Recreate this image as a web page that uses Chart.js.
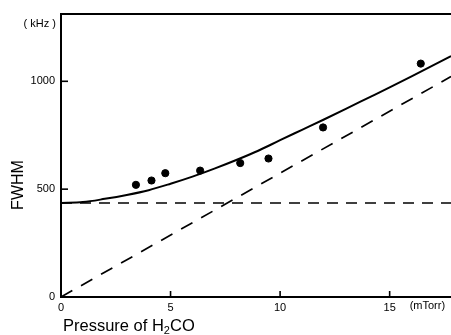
<!DOCTYPE html>
<html>
<head>
<meta charset="utf-8">
<script src="https://cdn.jsdelivr.net/npm/chart.js@4"></script>
<style>
  html, body { margin: 0; padding: 0; background: #fff; }
  #wrap { width: 451px; height: 335px; }
</style>
</head>
<body>
<div id="wrap"><canvas id="grafico"></canvas></div>
<script>
// datos
var presion = [3.42, 4.13, 4.76, 6.35, 8.18, 9.47, 11.96, 16.42];
var anchura = [520, 540, 574, 586, 621, 642, 786, 1082];

// curva ajustada (leida punto a punto)
var curvaX = [0, 1, 2, 3, 4, 5, 6, 7, 8, 9, 10, 11, 12, 13, 14, 15, 16, 17, 17.8];
var curvaY = [436, 440, 455, 473, 495, 525, 558, 595, 635, 678, 727, 775, 823, 872, 922, 972, 1023, 1075, 1117];

// lineas de trazos
var planaX = [0, 17.8];
var planaY = [436, 436];
var rectaX = [0, 17.8];
var rectaY = [0, 1022];

var ticksX = [0, 5, 10, 15];
var ticksY = [0, 500, 1000];

function pares(xs, ys) {
  var out = [];
  for (var i = 0; i < xs.length; i++) {
    out.push({ x: xs[i], y: ys[i] });
  }
  return out;
}

var fuente = "'Liberation Sans', 'DejaVu Sans', sans-serif";

// textos, marcas hacia dentro y borde superior
var extras = {
  id: 'extras',
  afterDraw: function (chart) {
    var ctx = chart.ctx;
    var area = chart.chartArea;
    var sx = chart.scales.x;
    var sy = chart.scales.y;
    ctx.save();
    ctx.strokeStyle = '#000';
    ctx.lineWidth = 2;
    // borde superior
    ctx.beginPath();
    ctx.moveTo(area.left - 1, area.top);
    ctx.lineTo(451, area.top);
    ctx.stroke();
    // marcas hacia dentro
    ctx.lineWidth = 1.6;
    ticksY.forEach(function (v) {
      if (v === 0) return;
      var py = sy.getPixelForValue(v);
      ctx.beginPath();
      ctx.moveTo(area.left, py);
      ctx.lineTo(area.left + 7, py);
      ctx.stroke();
    });
    ticksX.forEach(function (v) {
      if (v === 0) return;
      var px = sx.getPixelForValue(v);
      ctx.beginPath();
      ctx.moveTo(px, area.bottom);
      ctx.lineTo(px, area.bottom - 6);
      ctx.stroke();
    });
    ctx.fillStyle = '#000';
    // unidades
    ctx.font = '11px ' + fuente;
    ctx.textAlign = 'right';
    ctx.textBaseline = 'middle';
    ctx.fillText('( kHz )', 56, 24);
    ctx.textAlign = 'left';
    ctx.fillText('(mTorr)', sx.getPixelForValue(15) + 20, 306);
    // titulo eje y
    ctx.font = '16px ' + fuente;
    ctx.save();
    ctx.translate(19, 185);
    ctx.rotate(-Math.PI / 2);
    ctx.textAlign = 'center';
    ctx.fillText('FWHM', 0, 0);
    ctx.restore();
    // titulo eje x con subindice
    ctx.font = '16.5px ' + fuente;
    ctx.textAlign = 'left';
    ctx.textBaseline = 'alphabetic';
    var x0 = 63, y0 = 331;
    var t1 = 'Pressure of H';
    ctx.fillText(t1, x0, y0);
    var w1 = ctx.measureText(t1).width;
    ctx.font = '11px ' + fuente;
    ctx.fillText('2', x0 + w1, y0 + 3);
    var w2 = ctx.measureText('2').width;
    ctx.font = '16.5px ' + fuente;
    ctx.fillText('CO', x0 + w1 + w2, y0);
    ctx.restore();
  }
};

var ctx = document.getElementById('grafico').getContext('2d');
new Chart(ctx, {
  type: 'scatter',
  data: {
    datasets: [{
      label: 'medidas',
      data: pares(presion, anchura),
      backgroundColor: '#000',
      borderColor: '#000',
      pointRadius: 3.6,
      showLine: false
    }, {
      label: 'curva',
      data: pares(curvaX, curvaY),
      borderColor: '#000',
      borderWidth: 2,
      pointRadius: 0,
      showLine: true,
      cubicInterpolationMode: 'monotone'
    }, {
      label: 'plana',
      data: pares(planaX, planaY),
      borderColor: '#000',
      borderWidth: 1.5,
      borderDash: [11, 8],
      pointRadius: 0,
      showLine: true
    }, {
      label: 'recta',
      data: pares(rectaX, rectaY),
      borderColor: '#000',
      borderWidth: 1.7,
      borderDash: [13, 10],
      pointRadius: 0,
      showLine: true
    }]
  },
  options: {
    responsive: true,
    maintainAspectRatio: false,
    animation: false,
    layout: { autoPadding: false, padding: { top: 14, right: 0, left: 0, bottom: 0 } },
    plugins: {
      legend: { display: false },
      tooltip: { enabled: false }
    },
    scales: {
      x: {
        type: 'linear',
        min: 0,
        max: 17.8,
        afterFit: function (scale) {
          scale.height = 38;
          scale.paddingLeft = 0;
          scale.paddingRight = 0;
        },
        afterBuildTicks: function (scale) {
          scale.ticks = ticksX.map(function (v) { return { value: v }; });
        },
        grid: { display: false, drawOnChartArea: false, drawTicks: false, tickLength: 0 },
        border: { display: true, color: '#000', width: 2 },
        ticks: {
          color: '#000',
          font: { size: 11, family: fuente },
          padding: 4,
          maxRotation: 0,
          callback: function (v) { return String(v); }
        }
      },
      y: {
        type: 'linear',
        min: 0,
        max: 1312,
        afterFit: function (scale) {
          scale.width = 61;
          scale.paddingTop = 0;
          scale.paddingBottom = 0;
        },
        afterBuildTicks: function (scale) {
          scale.ticks = ticksY.map(function (v) { return { value: v }; });
        },
        grid: { display: false, drawOnChartArea: false, drawTicks: false, tickLength: 0 },
        border: { display: true, color: '#000', width: 2 },
        ticks: {
          color: '#000',
          font: { size: 11, family: fuente },
          padding: 6,
          callback: function (v) { return String(v); }
        }
      }
    }
  },
  plugins: [extras]
});
</script>
</body>
</html>
